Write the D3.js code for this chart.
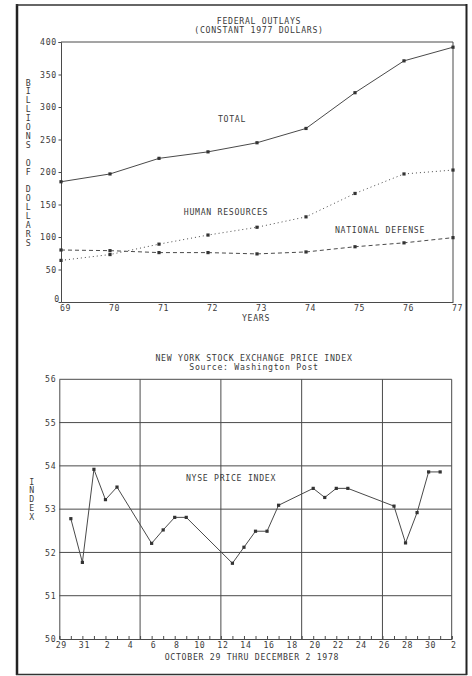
<!DOCTYPE html>
<html>
<head>
<meta charset="utf-8">
<script src="https://cdn.jsdelivr.net/npm/d3@7"></script>
<style>
  html, body { margin: 0; padding: 0; background: #fff; }
  svg { display: block; }
  text { font-family: "DejaVu Sans Mono", monospace; font-size: 8.2px; fill: #3a3a3a; letter-spacing: 0.7px; }
</style>
</head>
<body>
<svg id="chart" width="472" height="676"></svg>
<script>
// ---------- DATA ----------
const years = [69, 70, 71, 72, 73, 74, 75, 76, 77];
const totalOutlays = [185, 197, 221, 231, 245, 267, 322, 371, 392];
const humanResources = [64, 73, 89, 103, 115, 131, 167, 197, 203];
const nationalDefense = [80, 79, 76, 76, 74, 77, 85, 91, 99];
const outlayTicks = [0, 50, 100, 150, 200, 250, 300, 350, 400];

const nyseDates = ["1978-10-30","1978-10-31","1978-11-01","1978-11-02","1978-11-03",
  "1978-11-06","1978-11-07","1978-11-08","1978-11-09",
  "1978-11-13","1978-11-14","1978-11-15","1978-11-16","1978-11-17",
  "1978-11-20","1978-11-21","1978-11-22","1978-11-23",
  "1978-11-27","1978-11-28","1978-11-29","1978-11-30","1978-12-01"];
const nyseValues = [52.78, 51.77, 53.92, 53.22, 53.51,
  52.21, 52.52, 52.81, 52.81,
  51.75, 52.12, 52.49, 52.49, 53.09,
  53.48, 53.27, 53.48, 53.48,
  53.07, 52.22, 52.92, 53.86, 53.86];
const nyseTicks = [50, 51, 52, 53, 54, 55, 56];
const nyseStart = "1978-10-29", nyseEnd = "1978-12-02";

// ---------- SETUP ----------
const svg = d3.select("#chart");
const ink = "#4a4a4a";
const parse = s => { const [y, m, d] = s.split("-").map(Number); return new Date(Date.UTC(y, m - 1, d)); };

// outer frame
svg.append("line").attr("x1", 17).attr("x2", 17).attr("y1", 4).attr("y2", 675).attr("stroke", "#222").attr("stroke-width", 2.5);
svg.append("line").attr("x1", 16).attr("x2", 467).attr("y1", 5).attr("y2", 5).attr("stroke", "#333").attr("stroke-width", 1.6);
svg.append("line").attr("x1", 466.5).attr("x2", 466.5).attr("y1", 4).attr("y2", 675).attr("stroke", "#222").attr("stroke-width", 2);
svg.append("line").attr("x1", 16).attr("x2", 467).attr("y1", 674.5).attr("y2", 674.5).attr("stroke", "#333").attr("stroke-width", 1.6);

// ---------- TOP CHART ----------
const x1 = d3.scaleLinear().domain([69, 77]).range([61, 453]);
const y1 = d3.scaleLinear().domain([0, 400]).range([302, 42]);
const gTop = svg.append("g");

gTop.append("text").attr("x", 259).attr("y", 24).attr("text-anchor", "middle").text("FEDERAL OUTLAYS");
gTop.append("text").attr("x", 259).attr("y", 33).attr("text-anchor", "middle").text("(CONSTANT 1977 DOLLARS)");

// box top and right
gTop.append("line").attr("x1", x1(69)).attr("x2", x1(77)).attr("y1", y1(400)).attr("y2", y1(400)).attr("stroke", ink);
gTop.append("line").attr("x1", x1(77)).attr("x2", x1(77)).attr("y1", y1(400)).attr("y2", y1(0)).attr("stroke", ink);

const yAx1 = gTop.append("g").attr("transform", `translate(${x1(69)},0)`)
  .call(d3.axisLeft(y1).tickValues(outlayTicks).tickSize(2.5).tickPadding(1.5).tickFormat(d3.format("d")));
yAx1.select(".domain").attr("stroke", ink);
yAx1.selectAll(".tick line").attr("stroke", ink);
yAx1.selectAll("text").attr("font-family", null).attr("font-size", null).attr("fill", null);
yAx1.selectAll(".tick").filter(d => d === 0).select("text").attr("x", -1).attr("dy", "-0.05em");
yAx1.selectAll(".tick").filter(d => d === 0).select("line").remove();

const xAx1 = gTop.append("g").attr("transform", `translate(0,${y1(0)})`)
  .call(d3.axisBottom(x1).tickValues(years).tickSize(0).tickPadding(3).tickFormat(d => String(d)));
xAx1.select(".domain").attr("stroke", ink);
xAx1.selectAll("text").attr("font-family", null).attr("font-size", null).attr("fill", null).attr("dx", 4);

gTop.append("text").attr("x", 256).attr("y", 321).attr("text-anchor", "middle").text("YEARS");

// vertical stacked y label
const yLab1 = "BILLIONS OF DOLLARS".split("");
gTop.selectAll("text.ylab").data(yLab1).join("text").attr("class", "ylab")
  .attr("x", 28.3).attr("y", (d, i) => 85.5 + i * 8.9).attr("text-anchor", "middle")
  .style("letter-spacing", "0").text(d => d);

const line1 = d3.line().x((d, i) => x1(years[i])).y(d => y1(d));
const seriesDefs = [
  { vals: totalOutlays, dash: null },
  { vals: humanResources, dash: "1,3" },
  { vals: nationalDefense, dash: "4,3" }
];
seriesDefs.forEach(s => {
  gTop.append("path").datum(s.vals).attr("d", line1).attr("fill", "none")
    .attr("stroke", ink).attr("stroke-width", 1).attr("stroke-dasharray", s.dash);
  gTop.selectAll(null).data(s.vals).join("rect")
    .attr("x", (d, i) => x1(years[i]) - 1.6).attr("y", d => y1(d) - 1.6)
    .attr("width", 3.2).attr("height", 3.2).attr("fill", "#333");
});

gTop.append("text").attr("x", 232).attr("y", 122).attr("text-anchor", "middle").text("TOTAL");
gTop.append("text").attr("x", 226).attr("y", 215).attr("text-anchor", "middle").text("HUMAN RESOURCES");
gTop.append("text").attr("x", 380).attr("y", 233).attr("text-anchor", "middle").text("NATIONAL DEFENSE");

// ---------- BOTTOM CHART ----------
const x2 = d3.scaleUtc().domain([parse(nyseStart), parse(nyseEnd)]).range([59.3, 451.7]);
const y2 = d3.scaleLinear().domain([50, 56]).range([639, 379.3]);
const gBot = svg.append("g");

gBot.append("text").attr("x", 254).attr("y", 360.5).attr("text-anchor", "middle").text("NEW YORK STOCK EXCHANGE PRICE INDEX");
gBot.append("text").attr("x", 254).attr("y", 369.5).attr("text-anchor", "middle").text("Source: Washington Post");

// horizontal grid
gBot.selectAll(null).data(nyseTicks.filter(d => d > 50)).join("line")
  .attr("x1", x2.range()[0]).attr("x2", x2.range()[1])
  .attr("y1", d => y2(d)).attr("y2", d => y2(d)).attr("stroke", ink).attr("stroke-width", 1);
// vertical weekly grid + right border
const weekLines = d3.utcDay.range(parse("1978-11-05"), parse("1978-12-01"), 7).concat([parse(nyseEnd)]);
gBot.selectAll(null).data(weekLines).join("line")
  .attr("x1", d => x2(d)).attr("x2", d => x2(d))
  .attr("y1", y2(56)).attr("y2", y2(50)).attr("stroke", ink).attr("stroke-width", 1);

const yAx2 = gBot.append("g").attr("transform", `translate(${x2.range()[0]},0)`)
  .call(d3.axisLeft(y2).tickValues(nyseTicks).tickSize(0).tickPadding(3).tickFormat(d3.format("d")));
yAx2.select(".domain").attr("stroke", ink);
yAx2.selectAll("text").attr("font-family", null).attr("font-size", null).attr("fill", null);

const xAx2 = gBot.append("g").attr("transform", `translate(0,${y2(50)})`)
  .call(d3.axisBottom(x2).ticks(d3.utcDay.every(1)).tickSize(-3).tickPadding(6)
    .tickFormat(d => ((d - parse(nyseStart)) / 864e5) % 2 === 0 ? d3.utcFormat("%-d")(d) : ""));
xAx2.select(".domain").attr("stroke", ink);
xAx2.selectAll(".tick line").attr("stroke", ink);
xAx2.selectAll("text").attr("font-family", null).attr("font-size", null).attr("fill", null)
  .attr("dx", 1.5).attr("y", 3.6);

gBot.append("text").attr("x", 252).attr("y", 659.8).attr("text-anchor", "middle").text("OCTOBER 29 THRU DECEMBER 2 1978");

const yLab2 = "INDEX".split("");
gBot.selectAll("text.ylab2").data(yLab2).join("text").attr("class", "ylab2")
  .attr("x", 31.7).attr("y", (d, i) => 484.5 + i * 8.9).attr("text-anchor", "middle")
  .style("letter-spacing", "0").text(d => d);

const line2 = d3.line().x((d, i) => x2(parse(nyseDates[i]))).y(d => y2(d));
gBot.append("path").datum(nyseValues).attr("d", line2).attr("fill", "none").attr("stroke", ink).attr("stroke-width", 1);
gBot.selectAll(null).data(nyseValues).join("rect")
  .attr("x", (d, i) => x2(parse(nyseDates[i])) - 1.6).attr("y", d => y2(d) - 1.6)
  .attr("width", 3.2).attr("height", 3.2).attr("fill", "#333");

gBot.append("text").attr("x", 231).attr("y", 481).attr("text-anchor", "middle").text("NYSE PRICE INDEX");
</script>
</body>
</html>
